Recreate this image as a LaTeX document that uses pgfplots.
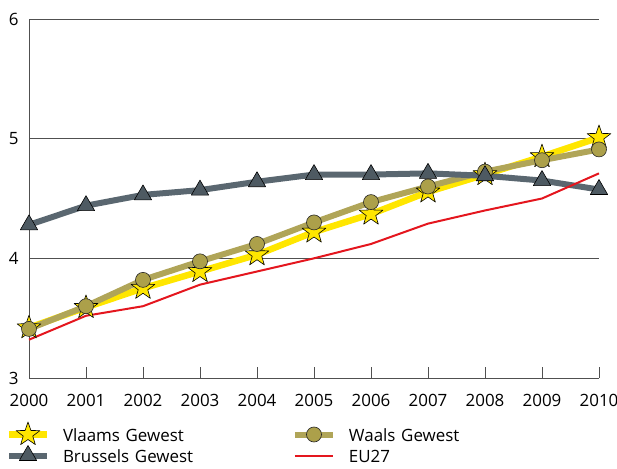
\documentclass[border=0pt]{standalone}
\usepackage{fontspec}
\setmainfont{Open Sans}
\usepackage{pgfplots}
\pgfplotsset{compat=1.18}
\definecolor{vyellow}{HTML}{FFE600}
\definecolor{wolive}{HTML}{B0A558}
\definecolor{wfill}{HTML}{ACA04A}
\definecolor{bgray}{HTML}{5A6770}
\definecolor{bfill}{HTML}{4E5A62}
\definecolor{eured}{HTML}{E4161E}
\definecolor{gridc}{HTML}{505050}
\pgfdeclareplotmark{fstar}{%
\pgfpathmoveto{\pgfpointpolar{90}{\pgfplotmarksize}}%
\pgfpathlineto{\pgfpointpolar{126}{0.4\pgfplotmarksize}}%
\pgfpathlineto{\pgfpointpolar{162}{\pgfplotmarksize}}%
\pgfpathlineto{\pgfpointpolar{198}{0.4\pgfplotmarksize}}%
\pgfpathlineto{\pgfpointpolar{234}{\pgfplotmarksize}}%
\pgfpathlineto{\pgfpointpolar{270}{0.4\pgfplotmarksize}}%
\pgfpathlineto{\pgfpointpolar{306}{\pgfplotmarksize}}%
\pgfpathlineto{\pgfpointpolar{342}{0.4\pgfplotmarksize}}%
\pgfpathlineto{\pgfpointpolar{18}{\pgfplotmarksize}}%
\pgfpathlineto{\pgfpointpolar{54}{0.4\pgfplotmarksize}}%
\pgfpathclose
\pgfusepathqfillstroke}
\begin{document}
\begin{tikzpicture}
\begin{axis}[
 scale only axis, width=570bp, height=359bp,
 xmin=2000, xmax=2010, ymin=3, ymax=6,
 xtick={2000,2001,2002,2003,2004,2005,2006,2007,2008,2009,2010},
 ytick={3,4,5,6},
 x tick label style={/pgf/number format/1000 sep={}, yshift=-13bp},
 yticklabel style={xshift=-1.5bp},
 /pgf/number format/assume math mode=true,
 axis x line=bottom, axis y line=left,
 axis line style={-, gridc, line width=0.8bp},
 ymajorgrids, grid style={gridc, line width=0.8bp},
 xtick align=inside, major tick length=11bp,
 ytick style={draw=none},
 xtick style={gridc, line width=0.8bp},
 tick label style={font=\fontsize{17}{20}\selectfont},
 clip=false,
 legend columns=2, legend cell align=left,
 legend style={draw=none, fill=none, inner sep=0pt, outer sep=0pt, column sep=0pt, row sep=0pt,
   at={(axis description cs:0,0)}, anchor=north west, xshift=-20bp, yshift=-46bp,
   nodes={font=\fontsize{17}{20}\selectfont, text width=232bp, inner xsep=0pt, inner ysep=1bp, text height=16bp, text depth=3bp, align=left}},
 legend image code/.code={\draw[#1, overlay, mark repeat=2, mark phase=2] plot coordinates {(0bp,0bp) (19bp,0bp) (38bp,0bp)}; \path[draw=none, fill=none] (0bp,-1bp) rectangle (54bp,1bp);},
]
\addplot[vyellow, line width=6.5bp, line join=round, mark=fstar, mark size=12.5bp, mark options={solid, fill=vyellow, draw=black, line width=0.6bp}] coordinates {
(2000,3.42) (2001,3.59) (2002,3.75) (2003,3.89) (2004,4.03) (2005,4.22) (2006,4.37) (2007,4.555) (2008,4.70) (2009,4.85) (2010,5.01)};
\addlegendentry{Vlaams Gewest}
\addplot[wolive, line width=6bp, line join=round, mark=*, mark size=7.5bp, mark options={solid, fill=wfill, draw=black!85, line width=0.6bp}] coordinates {
(2000,3.41) (2001,3.60) (2002,3.82) (2003,3.975) (2004,4.12) (2005,4.30) (2006,4.47) (2007,4.60) (2008,4.725) (2009,4.82) (2010,4.91)};
\addlegendentry{Waals Gewest}
\addplot[bgray, line width=6bp, line join=round, mark=triangle*, mark size=10bp, mark options={solid, fill=bfill, draw=black, line width=0.6bp}] coordinates {
(2000,4.28) (2001,4.44) (2002,4.53) (2003,4.57) (2004,4.64) (2005,4.70) (2006,4.70) (2007,4.71) (2008,4.69) (2009,4.65) (2010,4.575)};
\addlegendentry{Brussels Gewest}
\addplot[eured, line width=2bp, line join=round, no marks] coordinates {
(2000,3.32) (2001,3.52) (2002,3.60) (2003,3.78) (2004,3.89) (2005,4.00) (2006,4.12) (2007,4.29) (2008,4.40) (2009,4.50) (2010,4.71)};
\addlegendentry{EU27}
\end{axis}
\pgfresetboundingbox
\useasboundingbox (-29bp,-91bp) rectangle (588bp,378bp);
\end{tikzpicture}
\end{document}
